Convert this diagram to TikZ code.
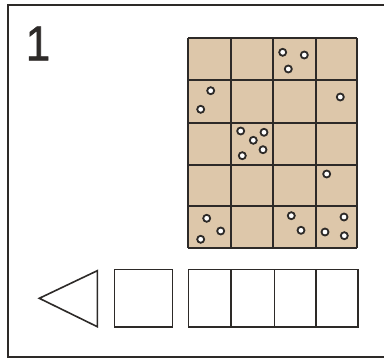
\documentclass[tikz,border=0pt]{standalone}
\usepackage{fontspec}
\setmainfont{Liberation Sans}
\newfontfamily\numfont{Liberation Sans}[FakeBold=1.4]
\definecolor{ink}{RGB}{45,42,40}
\definecolor{tan}{RGB}{221,199,170}
\begin{document}
\begin{tikzpicture}[x=1pt,y=-1pt,
  gridline/.style={draw=ink,line width=2pt},
  shapeline/.style={draw=ink,line width=1.6pt},
  dot/.style={draw=ink,fill=white,line width=1.8pt}]
\useasboundingbox (0,0) rectangle (384,359);
\fill[white] (0,0) rectangle (384,359);
% frame
\draw[ink,line width=2pt] (390,4.5) -- (8,4.5) -- (8,357.3) -- (390,357.3);
\node[font=\numfont\fontsize{49}{49}\selectfont,text=ink,inner sep=0pt,
  xscale=0.9] (num) at (38,43.5) {1};
% grid
\fill[tan] (188.3,38.3) rectangle (357,248.3);
\foreach \x in {188.3,230.5,273.3,316,357}
  \draw[gridline] (\x,38.3) -- (\x,248.3);
\foreach \y in {38.3,80,122.5,164.5,206.3,248.3}
  \draw[gridline] (188.3,\y) -- (357,\y);
% dots
\foreach \p in {(282.7,52.3),(304.3,55),(288.3,69),
  (210.7,90.7),(200.7,109.3),(340.3,97),
  (240.7,131),(264,132.3),(253.3,140.3),(263,149.7),(242.3,155.7),
  (326.7,174),
  (206.7,218.3),(220.7,231),(200.7,239.3),(291.3,215.7),(301,230.3),
  (344,217),(325,232),(344.3,235.7)}
  \draw[dot] \p circle (3.5);
% bottom row
\draw[shapeline] (39.3,298.3) -- (97.3,270.7) -- (97.3,326.7) -- cycle;
\draw[shapeline] (114.3,269.5) rectangle (172.3,326.7);
\draw[shapeline] (188.3,269.5) rectangle (357.7,326.7);
\foreach \x in {231,274.3,316}
  \draw[shapeline] (\x,269.5) -- (\x,326.7);
\end{tikzpicture}
\end{document}
